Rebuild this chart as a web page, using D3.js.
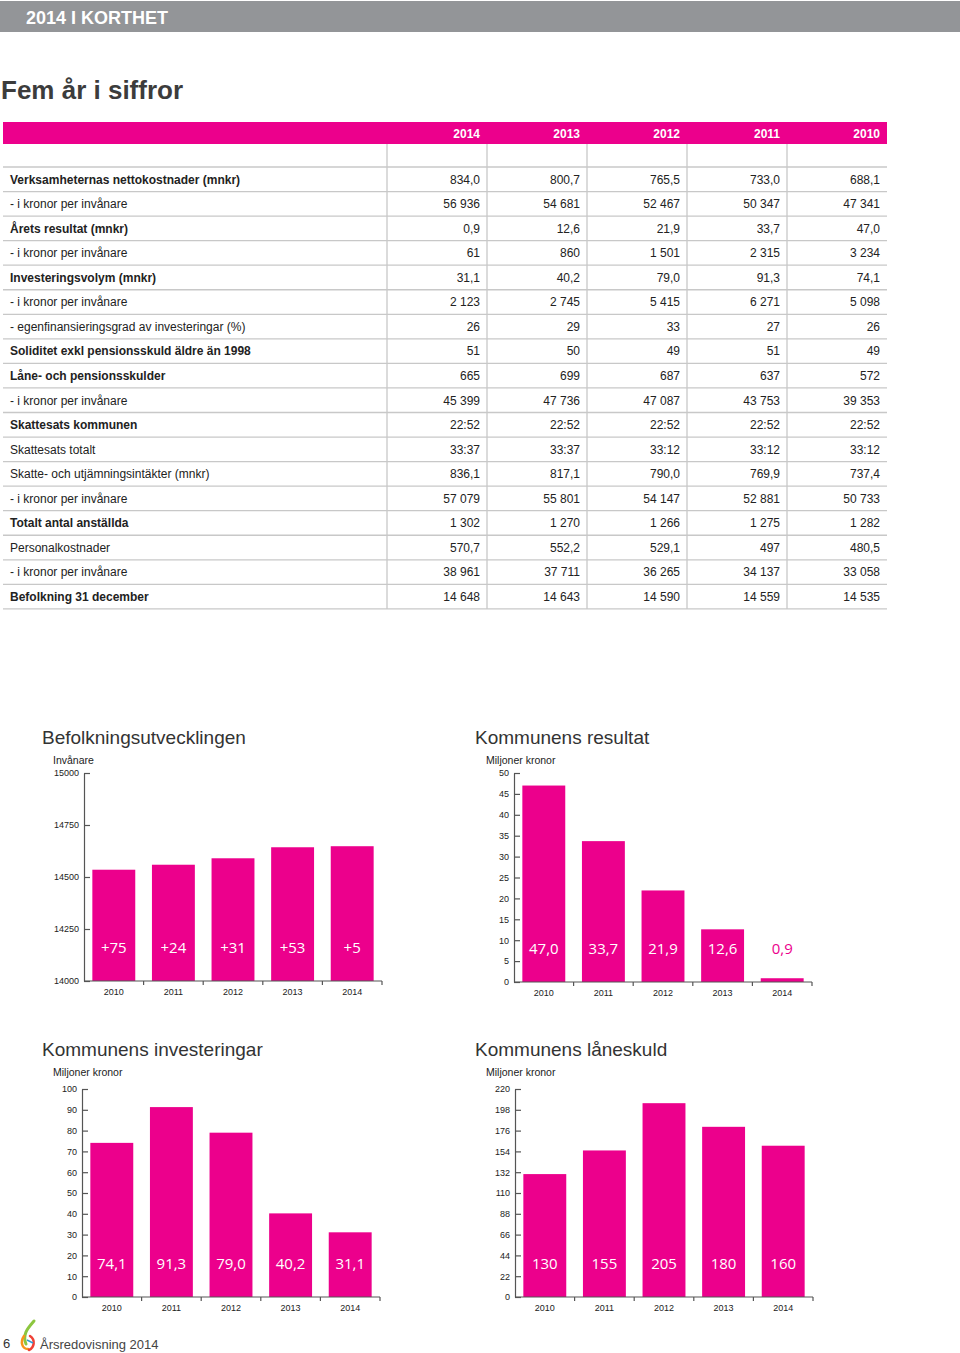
<!DOCTYPE html>
<html><head><meta charset="utf-8">
<script src="https://cdn.jsdelivr.net/npm/d3@7"></script>
<style>
html,body{margin:0;padding:0;background:#fff;}
svg{display:block;font-family:"Liberation Sans",Arial,sans-serif;}
</style></head>
<body><svg id="c" width="960" height="1353"></svg>
<script>
// ---------- DATA ----------
const tableYears = ["2014","2013","2012","2011","2010"];
const rowLabels = [
  "Verksamheternas nettokostnader (mnkr)",
  "- i kronor per invånare",
  "Årets resultat (mnkr)",
  "- i kronor per invånare",
  "Investeringsvolym (mnkr)",
  "- i kronor per invånare",
  "- egenfinansieringsgrad av investeringar (%)",
  "Soliditet exkl pensionsskuld äldre än 1998",
  "Låne- och pensionsskulder",
  "- i kronor per invånare",
  "Skattesats kommunen",
  "Skattesats totalt",
  "Skatte- och utjämningsintäkter (mnkr)",
  "- i kronor per invånare",
  "Totalt antal anställda",
  "Personalkostnader",
  "- i kronor per invånare",
  "Befolkning 31 december"
];
const boldRows = [0,2,4,7,8,10,14,17];
const rowValues = [
  ["834,0","800,7","765,5","733,0","688,1"],
  ["56 936","54 681","52 467","50 347","47 341"],
  ["0,9","12,6","21,9","33,7","47,0"],
  ["61","860","1 501","2 315","3 234"],
  ["31,1","40,2","79,0","91,3","74,1"],
  ["2 123","2 745","5 415","6 271","5 098"],
  ["26","29","33","27","26"],
  ["51","50","49","51","49"],
  ["665","699","687","637","572"],
  ["45 399","47 736","47 087","43 753","39 353"],
  ["22:52","22:52","22:52","22:52","22:52"],
  ["33:37","33:37","33:12","33:12","33:12"],
  ["836,1","817,1","790,0","769,9","737,4"],
  ["57 079","55 801","54 147","52 881","50 733"],
  ["1 302","1 270","1 266","1 275","1 282"],
  ["570,7","552,2","529,1","497","480,5"],
  ["38 961","37 711","36 265","34 137","33 058"],
  ["14 648","14 643","14 590","14 559","14 535"]
];

const chartYears = ["2010","2011","2012","2013","2014"];
const popValues = [14535, 14559, 14590, 14643, 14648];
const popLabels = ["+75","+24","+31","+53","+5"];
const popTicks = [14000, 14250, 14500, 14750, 15000];
const resValues = [47.0, 33.7, 21.9, 12.6, 0.9];
const resTicks = [0,5,10,15,20,25,30,35,40,45,50];
const invValues = [74.1, 91.3, 79.0, 40.2, 31.1];
const invTicks = [0,10,20,30,40,50,60,70,80,90,100];
const debtValues = [130, 155, 205, 180, 160];
const debtTicks = [0,22,44,66,88,110,132,154,176,198,220];

// ---------- DRAW ----------
const PINK = "#ec008c";
const svg = d3.select("#c");

// header bar
svg.append("rect").attr("x",0).attr("y",1).attr("width",960).attr("height",31).attr("fill","#939598");
svg.append("text").attr("x",26).attr("y",24).attr("fill","#fff").attr("font-size",18).attr("font-weight","bold").text("2014 I KORTHET");
svg.append("text").attr("x",1).attr("y",99).attr("fill","#3c3c3c").attr("font-size",26).attr("font-weight","bold").text("Fem år i siffror");

// table
const tX0 = 3, tX1 = 887, headTop = 122, headBot = 144, firstLine = 167, rowH = 24.55;
const colScale = d3.scaleBand().domain(tableYears).range([387, 887]);
svg.append("rect").attr("x",tX0).attr("y",headTop).attr("width",tX1-tX0).attr("height",headBot-headTop).attr("fill",PINK);
svg.selectAll("text.yr").data(tableYears).join("text").attr("class","yr")
  .attr("x",d=>colScale(d)+colScale.bandwidth()-7).attr("y",137.5)
  .attr("text-anchor","end").attr("fill","#fff").attr("font-size",12).attr("font-weight","bold").text(d=>d);
const rowY = d3.scaleLinear().domain([0, rowLabels.length]).range([firstLine, firstLine + rowH*rowLabels.length]);
// horizontal lines
svg.selectAll("line.hl").data(d3.range(rowLabels.length+1)).join("line").attr("class","hl")
  .attr("x1",tX0).attr("x2",tX1).attr("y1",d=>rowY(d)).attr("y2",d=>rowY(d))
  .attr("stroke","#c8c8c8").attr("stroke-width",1.3);
// vertical lines
svg.selectAll("line.vl").data(tableYears).join("line").attr("class","vl")
  .attr("x1",d=>colScale(d)).attr("x2",d=>colScale(d)).attr("y1",headBot).attr("y2",rowY(rowLabels.length))
  .attr("stroke","#c8c8c8").attr("stroke-width",1.3);
const rows = svg.selectAll("g.row").data(rowLabels).join("g").attr("class","row");
rows.append("text").attr("x",10).attr("y",(d,i)=>rowY(i)+rowH/2+4.3)
  .attr("font-size",12).attr("fill","#222")
  .attr("font-weight",(d,i)=>boldRows.includes(i)?"bold":"normal").text(d=>d);
rows.each(function(d,i){
  d3.select(this).selectAll("text.v").data(rowValues[i]).join("text").attr("class","v")
    .attr("x",(v,j)=>colScale(tableYears[j])+colScale.bandwidth()-7).attr("y",rowY(i)+rowH/2+4.3)
    .attr("text-anchor","end").attr("font-size",12).attr("fill","#222").text(v=>v);
});

// bar chart helper
function barChart(opt){
  const g = svg.append("g");
  g.append("text").attr("x",opt.titleX).attr("y",opt.titleY).attr("font-size",19).attr("fill","#333").text(opt.title);
  g.append("text").attr("x",opt.titleX+11).attr("y",opt.titleY+20).attr("font-size",10.5).attr("fill","#222").text(opt.unit);
  const x = d3.scaleBand().domain(chartYears).range([opt.x0, opt.x0+298]).paddingInner(0.28).paddingOuter(0.14);
  const y = d3.scaleLinear().domain(opt.domain).range([opt.yBot, opt.yTop]);
  // bars
  g.selectAll("rect.bar").data(opt.values).join("rect").attr("class","bar")
    .attr("x",(d,i)=>x(chartYears[i])).attr("width",x.bandwidth())
    .attr("y",d=>y(d)).attr("height",d=>y(opt.domain[0])-y(d)).attr("fill",PINK);
  // value labels
  const labY = y.invert(opt.yBot-34);
  g.selectAll("text.val").data(opt.values).join("text").attr("class","val")
    .attr("x",(d,i)=>x(chartYears[i])+x.bandwidth()/2).attr("y",opt.yBot-34+5.5)
    .attr("text-anchor","middle").attr("font-family","'Open Sans',sans-serif").attr("font-size",15)
    .attr("fill",d=>d>labY+ (opt.domain[1]-opt.domain[0])*0.05 ? "#fff" : PINK)
    .text((d,i)=>opt.labels[i]);
  // y axis
  const ya = d3.axisLeft(y).tickValues(opt.ticks).tickSizeInner(-6).tickSizeOuter(0).tickPadding(5).tickFormat(d3.format("d"));
  const ag = g.append("g").attr("transform",`translate(${opt.x0},0)`).call(ya);
  ag.selectAll("path,line").attr("stroke","#555").attr("stroke-width",1.2);
  ag.selectAll("text").attr("font-family","'Liberation Sans',Arial,sans-serif").attr("font-size",9).attr("fill","#222");
  // x axis line
  g.append("line").attr("x1",opt.x0).attr("x2",opt.x0+298).attr("y1",opt.yBot).attr("y2",opt.yBot).attr("stroke","#555").attr("stroke-width",1.2);
  const bnd = d => x(d) - x.step()*x.paddingInner()/2 + x.step();
  g.selectAll("line.xt").data(chartYears).join("line").attr("class","xt")
    .attr("x1",bnd).attr("x2",bnd).attr("y1",opt.yBot).attr("y2",opt.yBot+4).attr("stroke","#555").attr("stroke-width",1.2);
  g.selectAll("text.xl").data(chartYears).join("text").attr("class","xl")
    .attr("x",d=>x(d)+x.bandwidth()/2).attr("y",opt.yBot+14).attr("text-anchor","middle")
    .attr("font-size",9).attr("fill","#222").text(d=>d);
}

barChart({title:"Befolkningsutvecklingen", unit:"Invånare", titleX:42, titleY:744, x0:84, yTop:773, yBot:981,
  domain:[14000,15000], ticks:popTicks, values:popValues, labels:popLabels});
barChart({title:"Kommunens resultat", unit:"Miljoner kronor", titleX:475, titleY:744, x0:514, yTop:773, yBot:982,
  domain:[0,50], ticks:resTicks, values:resValues, labels:resValues.map(v=>d3.format(".1f")(v).replace(".",","))});
barChart({title:"Kommunens investeringar", unit:"Miljoner kronor", titleX:42, titleY:1056, x0:82, yTop:1089, yBot:1297,
  domain:[0,100], ticks:invTicks, values:invValues, labels:invValues.map(v=>d3.format(".1f")(v).replace(".",","))});
barChart({title:"Kommunens låneskuld", unit:"Miljoner kronor", titleX:475, titleY:1056, x0:515, yTop:1089, yBot:1297,
  domain:[0,220], ticks:debtTicks, values:debtValues, labels:debtValues.map(v=>String(v))});

// footer
svg.append("text").attr("x",3).attr("y",1348).attr("font-size",13).attr("fill","#333").text("6");
const logo = svg.append("g");
logo.append("path").attr("d","M34,1321 C28,1328 22,1334 26,1344").attr("fill","none").attr("stroke","#8cc63f").attr("stroke-width",3).attr("stroke-linecap","round");
logo.append("path").attr("d","M24,1336 C20,1342 22,1349 28,1349").attr("fill","none").attr("stroke","#f7941d").attr("stroke-width",2.5).attr("stroke-linecap","round");
logo.append("path").attr("d","M30,1336 C36,1340 34,1348 29,1350").attr("fill","none").attr("stroke","#ef4136").attr("stroke-width",2.5).attr("stroke-linecap","round");
logo.append("path").attr("d","M27,1340 L33,1343").attr("fill","none").attr("stroke","#2e9bd6").attr("stroke-width",1.5);
svg.append("text").attr("x",40).attr("y",1349).attr("font-size",13).attr("fill","#444").text("Årsredovisning 2014");
</script></body></html>
